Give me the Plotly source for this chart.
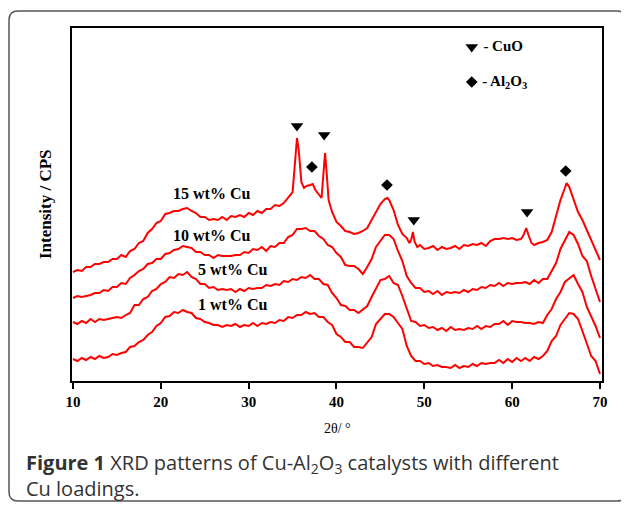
import plotly.graph_objects as go

# ---- data (2θ in degrees, intensity in arbitrary CPS units, offset stacked) ----
two_theta = [10 + 0.5 * i for i in range(121)]

cu1 = [22, 20, 23, 21, 24, 22, 25, 23, 24, 27, 26, 28, 29, 34, 35, 39, 41, 46, 49, 55,
       58, 64, 65, 69, 68, 71, 69, 68, 63, 62, 59, 58, 56, 56, 54, 56, 55, 57, 54, 56,
       55, 58, 55, 58, 57, 59, 58, 61, 60, 64, 63, 66, 66, 69, 67, 68, 64, 64, 59, 56,
       47, 44, 39, 39, 34, 34, 33, 39, 44, 57, 62, 67, 67, 64, 58, 52, 35, 25, 20, 20,
       17, 18, 15, 16, 14, 14, 13, 16, 13, 15, 14, 17, 15, 18, 17, 18, 18, 21, 18, 22,
       19, 23, 20, 23, 20, 24, 22, 25, 30, 40, 45, 56, 62, 68, 67, 62, 50, 37, 25, 20, 7]

cu5 = [59, 57, 60, 58, 62, 59, 62, 61, 62, 63, 64, 63, 66, 68, 76, 76, 82, 84, 90, 92,
       97, 99, 104, 103, 107, 106, 109, 104, 102, 97, 97, 93, 94, 91, 92, 91, 92, 89, 92, 90,
       93, 92, 93, 93, 96, 95, 97, 96, 100, 99, 102, 101, 104, 103, 106, 102, 102, 97, 96, 88,
       83, 76, 75, 71, 71, 68, 72, 75, 84, 92, 101, 102, 105, 98, 96, 85, 72, 60, 59, 55,
       56, 53, 54, 51, 53, 50, 54, 51, 52, 51, 53, 52, 55, 52, 55, 54, 57, 57, 60, 56,
       60, 59, 59, 58, 58, 57, 59, 58, 66, 72, 82, 89, 99, 103, 106, 97, 89, 74, 64, 55, 43]

cu10 = [83, 85, 84, 85, 86, 88, 88, 91, 90, 94, 94, 98, 97, 103, 106, 110, 112, 117, 118, 122,
        122, 127, 128, 131, 132, 135, 134, 133, 129, 129, 126, 126, 123, 126, 125, 125, 125, 126, 126, 129,
        128, 132, 131, 134, 130, 135, 134, 138, 138, 144, 146, 152, 152, 153, 150, 150, 145, 142, 136, 134,
        128, 124, 116, 115, 115, 112, 107, 114, 122, 134, 140, 146, 146, 142, 130, 120, 105, 98, 93, 93,
        89, 90, 87, 90, 86, 89, 88, 89, 88, 91, 89, 92, 91, 94, 93, 96, 95, 98, 95, 98,
        97, 98, 98, 99, 97, 101, 98, 102, 102, 110, 118, 132, 140, 149, 146, 137, 125, 120, 105, 92, 79]

two_theta_15 = [10, 10.5, 11, 11.5, 12, 12.5, 13, 13.5, 14, 14.5, 15, 15.5, 16, 16.5, 17, 17.5,
                18, 18.5, 19, 19.5, 20, 20.5, 21, 21.5, 22, 22.5, 23, 23.5, 24, 24.5, 25, 25.5,
                26, 26.5, 27, 27.5, 28, 28.5, 29, 29.5, 30, 30.5, 31, 31.5, 32, 32.5, 33, 33.5,
                34, 34.5, 35, 35.3, 35.5, 35.7, 36, 36.3, 36.6, 37, 37.3, 37.6, 38, 38.3, 38.5,
                38.7, 38.9, 39.1, 39.5, 40, 40.5, 41, 41.5, 42, 42.5, 43, 43.5, 44, 44.5, 45,
                45.5, 45.8, 46, 46.5, 47, 47.5, 48, 48.3, 48.5, 48.7, 48.9, 49.2, 49.5, 50, 50.5,
                51, 51.5, 52, 52.5, 53, 53.5, 54, 54.5, 55, 55.5, 56, 56.5, 57, 57.5, 58, 58.5,
                59, 59.5, 60, 60.5, 61, 61.3, 61.6, 61.9, 62.2, 62.5, 63, 63.5, 64, 64.5, 65,
                65.5, 66, 66.2, 66.5, 67, 67.5, 68, 68.5, 69, 69.5, 70]

cu15 = [109, 111, 110, 114, 114, 117, 117, 119, 119, 122, 122, 126, 124, 130, 132, 138,
        140, 148, 152, 158, 160, 167, 168, 170, 170, 172, 173, 170, 168, 164, 164, 161,
        162, 161, 164, 161, 165, 164, 166, 164, 168, 166, 170, 168, 172, 172, 176, 175,
        178, 183, 189, 221, 243, 231, 199, 193, 195, 196, 197, 191, 187, 183, 206,
        228, 206, 181, 169, 159, 155, 150, 149, 147, 148, 150, 153, 161, 169, 177,
        182, 183, 181, 171, 156, 147, 143, 138, 141, 149, 139, 134, 136, 132, 133,
        135, 131, 134, 132, 133, 135, 132, 136, 135, 137, 136, 138, 135, 140, 142, 142,
        143, 142, 143, 141, 142, 146, 153, 145, 138, 136, 138, 139, 141, 149, 166,
        181, 193, 198, 194, 181, 169, 161, 151, 141, 131, 121]

series_names = ["1 wt% Cu", "5 wt% Cu", "10 wt% Cu", "15 wt% Cu"]

# phase markers (2θ, marker height)
cuo_x = [35.5, 38.6, 48.8, 61.7]
cuo_y = [255, 246, 161, 169]
al2o3_x = [37.2, 45.75, 66.1]
al2o3_y = [214, 196, 210]

# sample labels (2θ, height)
label_x = [28.2, 28.2, 25.8, 25.8]
label_y = [77, 112, 146, 188]

x_ticks = [10, 20, 30, 40, 50, 60, 70]

# ---- figure ----
fig = go.Figure()
red = "#ff0000"
for xs, ys in [(two_theta, cu1), (two_theta, cu5), (two_theta, cu10), (two_theta_15, cu15)]:
    fig.add_trace(go.Scatter(x=xs, y=ys, mode="lines", line=dict(color=red, width=2),
                             showlegend=False, hoverinfo="skip"))

fig.add_trace(go.Scatter(x=cuo_x, y=cuo_y, mode="markers",
                         marker=dict(symbol="triangle-down", size=11, color="black"),
                         showlegend=False))
fig.add_trace(go.Scatter(x=al2o3_x, y=al2o3_y, mode="markers",
                         marker=dict(symbol="diamond", size=9, color="black"),
                         showlegend=False))

serif = "Liberation Serif, Times New Roman, serif"
# key
fig.add_trace(go.Scatter(x=[55.4], y=[334], mode="markers+text",
                         marker=dict(symbol="triangle-down", size=11, color="black"),
                         text=[" - CuO"], textposition="middle right",
                         textfont=dict(family=serif, size=15, color="black", weight="bold"),
                         showlegend=False))
fig.add_trace(go.Scatter(x=[55.4], y=[299], mode="markers+text",
                         marker=dict(symbol="diamond", size=9, color="black"),
                         text=[" - Al<sub>2</sub>O<sub>3</sub>"], textposition="middle right",
                         textfont=dict(family=serif, size=15, color="black", weight="bold"),
                         showlegend=False))

for name, lx, ly in zip(series_names, label_x, label_y):
    fig.add_annotation(x=lx, y=ly, text=name, showarrow=False,
                       xanchor="center", yanchor="middle",
                       font=dict(family=serif, size=16, color="black", weight="bold"))

# page coordinates (browser body adds an 8 px margin)
OFF = 8
SW, SH = 629, 506
W, H = SW - OFF, SH - OFF
L, R, T, B = 72, 602, 28, 381
pw, ph = R - L, B - T

def px_x(px):
    return (px - L) / pw

def px_y(py):
    return (B - py) / ph

fig.add_annotation(xref="paper", yref="paper", x=px_x(45), y=px_y(204),
                   xanchor="center", yanchor="middle",
                   text="Intensity / CPS", textangle=-90, showarrow=False,
                   font=dict(family=serif, size=17, color="black", weight="bold"))
fig.add_annotation(xref="paper", yref="paper", x=px_x(337), y=px_y(428),
                   xanchor="center", yanchor="middle",
                   text="2θ/ °", showarrow=False,
                   font=dict(family=serif, size=14, color="black"))

cap_font = dict(family="Open Sans, sans-serif", size=20, color="#333333")
fig.add_annotation(xref="paper", yref="paper", x=px_x(24), y=px_y(475),
                   xanchor="left", yanchor="middle", align="left",
                   text=("<b>Figure 1</b> XRD patterns of Cu-Al<sub>2</sub>O<sub>3</sub> "
                         "catalysts with different<br>Cu loadings."),
                   showarrow=False, font=cap_font)

# rounded outer frame
x0, x1 = px_x(9), px_x(626)
y0, y1 = px_y(501), px_y(11)
rx, ry = 9 / pw, 9 / ph
path = (f"M {x0+rx},{y1} L {x1-rx},{y1} Q {x1},{y1} {x1},{y1-ry} "
        f"L {x1},{y0+ry} Q {x1},{y0} {x1-rx},{y0} "
        f"L {x0+rx},{y0} Q {x0},{y0} {x0},{y0+ry} "
        f"L {x0},{y1-ry} Q {x0},{y1} {x0+rx},{y1} Z")
fig.add_shape(type="path", xref="paper", yref="paper", path=path,
              line=dict(color="#555555", width=1.5), layer="above")

fig.update_layout(
    width=W, height=H,
    margin=dict(l=L - OFF, r=SW - R, t=T - OFF, b=SH - B, pad=0),
    plot_bgcolor="white", paper_bgcolor="white",
    xaxis=dict(range=[9.886, 70.23], tickvals=x_ticks, ticktext=[str(v) for v in x_ticks],
               ticks="outside", ticklen=6, tickwidth=1.5, tickcolor="black",
               showline=True, linecolor="black", linewidth=1.5, mirror=True,
               showgrid=False, zeroline=False,
               tickfont=dict(family=serif, size=15, color="black", weight="bold")),
    yaxis=dict(range=[0, 353], showticklabels=False, ticks="",
               showline=True, linecolor="black", linewidth=1.5, mirror=True,
               showgrid=False, zeroline=False),
)

fig.write_html("out.html")
